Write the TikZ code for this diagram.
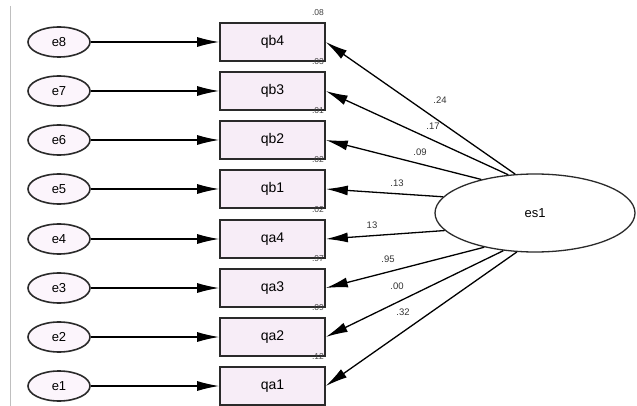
\documentclass[tikz,border=0pt]{standalone}
\usepackage{fontspec}
\setmainfont{Liberation Sans}
\usetikzlibrary{arrows.meta,shapes.geometric}
\definecolor{boxfill}{HTML}{F7EDF7}
\definecolor{errfill}{HTML}{FCF5FC}
\definecolor{edge}{HTML}{2A2A2A}
\tikzset{
  errnode/.style={ellipse,draw=edge,line width=1.6pt,fill=errfill,minimum width=62pt,minimum height=30pt,inner sep=0pt,font=\fontsize{13}{14}\selectfont},
  obsnode/.style={rectangle,draw=edge,line width=1.6pt,fill=boxfill,minimum width=105pt,minimum height=38pt,inner sep=0pt,font=\fontsize{14}{15}\selectfont},
  latnode/.style={ellipse,draw=edge,line width=1.3pt,fill=white,minimum width=200pt,minimum height=78pt,inner sep=0pt,font=\fontsize{13}{14}\selectfont},
  path/.style={draw=black,line width=1.3pt,-{Latex[length=22pt,width=10pt]}},
  small/.style={font=\fontsize{8.5}{9}\selectfont,inner sep=0pt,text=black!75},
  coef/.style={font=\fontsize{9.5}{10}\selectfont,inner sep=0pt,text=black!80}
}
\begin{document}
\begin{tikzpicture}[x=1pt,y=-1pt]
\useasboundingbox (0,0) rectangle (637,406);
\draw[gray!50,line width=0.8pt] (10,6) -- (10,406);
% rows
\foreach \n/\e/\q/\v/\y in {8/e8/qb4/.08/42, 7/e7/qb3/.03/91, 6/e6/qb2/.01/140, 5/e5/qb1/.02/189, 4/e4/qa4/.02/239, 3/e3/qa3/.97/288, 2/e2/qa2/.09/337, 1/e1/qa1/.12/386}{
  \node[errnode] (E\n) at (59,\y) {\e};
  \node[obsnode] (Q\n) at (272.5,\y) {\q};
  \node[small] (V\n) at (318,\y-29) {\v};
  \draw[path] (E\n.east) -- (Q\n.west);
}
\node[latnode] (L) at (535,213) {es1};
\foreach \n/\a in {8/117.8,7/125.4,6/148,5/170,4/191,3/214.7,2/230.6,1/245.8}{
  \draw[path] (L.\a) -- (Q\n.east);
}
\node[coef] (c8) at (440,100) {.24};
\node[coef] (c7) at (433,126) {.17};
\node[coef] (c6) at (420,152) {.09};
\node[coef] (c5) at (397,183) {.13};
\node[coef] (c4) at (372,225) {13};
\node[coef] (c3) at (388,259) {.95};
\node[coef] (c2) at (397,286) {.00};
\node[coef] (c1) at (403,312) {.32};
\end{tikzpicture}
\end{document}
